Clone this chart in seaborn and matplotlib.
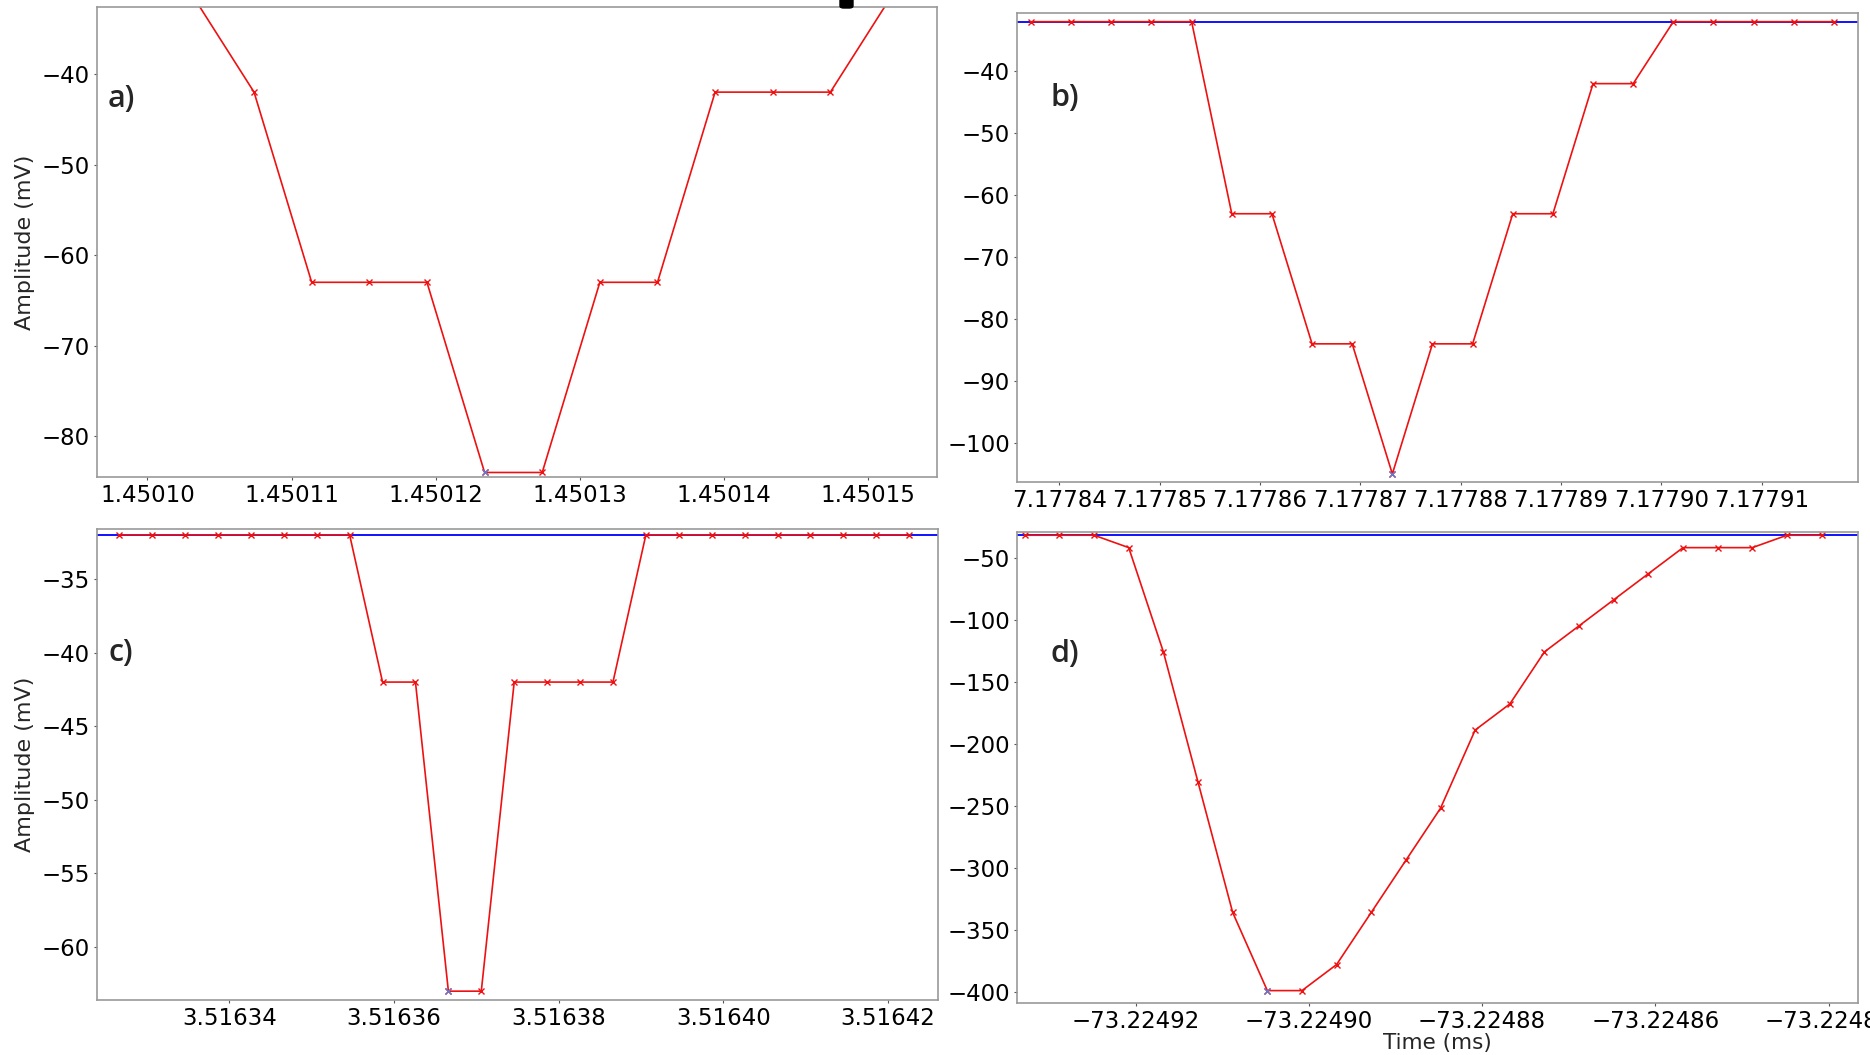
import numpy as np
import matplotlib
matplotlib.use("Agg")
import matplotlib.pyplot as plt
import seaborn as sns
from matplotlib.ticker import MultipleLocator, FuncFormatter
from matplotlib.patches import FancyBboxPatch

# Datos (tiempo en ms, amplitud en mV)
t_a = [1.4500994, 1.4501034, 1.4501074, 1.4501114, 1.4501154, 1.4501194, 1.4501234,
       1.4501274, 1.4501314, 1.4501354, 1.4501394, 1.4501434, 1.4501474, 1.4501514, 1.4501554]
v_a = [-32, -32, -42, -63, -63, -63, -84, -84, -63, -63, -42, -42, -42, -32, -32]

t_b = [7.1778372, 7.1778412, 7.1778452, 7.1778492, 7.1778532, 7.1778572, 7.1778612,
       7.1778652, 7.1778692, 7.1778732, 7.1778772, 7.1778812, 7.1778852, 7.1778892,
       7.1778932, 7.1778972, 7.1779012, 7.1779052, 7.1779092, 7.1779132, 7.1779172]
v_b = [-32, -32, -32, -32, -32, -63, -63, -84, -84, -105, -84, -84, -63, -63,
       -42, -42, -32, -32, -32, -32, -32]

t_c = [3.5163266, 3.5163306, 3.5163346, 3.5163386, 3.5163426, 3.5163466, 3.5163506,
       3.5163546, 3.5163586, 3.5163626, 3.5163666, 3.5163706, 3.5163746, 3.5163786,
       3.5163826, 3.5163866, 3.5163906, 3.5163946, 3.5163986, 3.5164026, 3.5164066,
       3.5164106, 3.5164146, 3.5164186, 3.5164226]
v_c = [-32, -32, -32, -32, -32, -32, -32, -32, -42, -42, -63, -63, -42, -42,
       -42, -42, -32, -32, -32, -32, -32, -32, -32, -32, -32]

t_d = [-73.2249328, -73.2249288, -73.2249248, -73.2249208, -73.2249168, -73.2249128,
       -73.2249088, -73.2249048, -73.2249008, -73.2248968, -73.2248928, -73.2248888,
       -73.2248848, -73.2248808, -73.2248768, -73.2248728, -73.2248688, -73.2248648,
       -73.2248608, -73.2248568, -73.2248528, -73.2248488, -73.2248448, -73.2248408]
v_d = [-32, -32, -32, -42, -126, -231, -336, -399, -399, -378, -336, -294,
       -252, -189, -168, -126, -105, -84, -63, -42, -42, -42, -32, -32]

baseline = -32
labels = ["a)", "b)", "c)", "d)"]

sns.set_theme(style="ticks")
plt.rcParams['font.family'] = ['DejaVu Sans']

W, H = 1870, 1055
fig = plt.figure(figsize=(W / 100, H / 100), dpi=100)


def box(l, r, t, b):
    return [l / W, 1 - b / H, (r - l) / W, (b - t) / H]


paneles = [
    dict(t=t_a, v=v_a, rect=box(97, 937, 7, 477), xlim=(1.4500965, 1.4501548),
         ylim=(-84.5, -32.6), xstep=1e-5, ystep=10, base=False, lab=(0.0125, 0.805)),
    dict(t=t_b, v=v_b, rect=box(1017, 1858, 13, 482), xlim=(7.1778358, 7.1779196),
         ylim=(-106.3, -30.6), xstep=1e-5, ystep=10, base=True, lab=(0.040, 0.819)),
    dict(t=t_c, v=v_c, rect=box(97, 938, 529, 1000), xlim=(3.5163239, 3.5164261),
         ylim=(-63.6, -31.6), xstep=2e-5, ystep=5, base=True, lab=(0.0137, 0.736)),
    dict(t=t_d, v=v_d, rect=box(1017, 1858, 532, 1003), xlim=(-73.2249337, -73.2248366),
         ylim=(-409, -29.4), xstep=2e-5, ystep=50, base=True, lab=(0.040, 0.742)),
]

fmt = FuncFormatter(lambda v, p: f"{v:.5f}".replace("-", "\u2212"))

for i, p in enumerate(paneles):
    ax = fig.add_axes(p["rect"])
    if p["base"]:
        ax.axhline(baseline, color="#1010ff", lw=1.4, zorder=1)
    sns.lineplot(x=p["t"], y=p["v"], ax=ax, color="#ee1111", lw=1.2,
                 marker="x", markersize=5, markeredgewidth=1.0,
                 markeredgecolor="#ee1111", zorder=2)
    # marca del minimo
    k = int(np.argmin(p["v"]))
    ax.plot(p["t"][k], p["v"][k], marker="x", ms=5, mew=1.0, color="#6677cc", zorder=3)

    ax.set_xlim(p["xlim"])
    ax.set_ylim(p["ylim"])
    ax.xaxis.set_major_locator(MultipleLocator(p["xstep"]))
    ax.yaxis.set_major_locator(MultipleLocator(p["ystep"]))
    ax.xaxis.set_major_formatter(fmt)
    ax.tick_params(labelsize=16.5, length=2.5, width=0.8, colors="#555555",
                   labelcolor="black", pad=2.5)
    for s in ax.spines.values():
        s.set_color("#999999")
        s.set_linewidth(1.2)

    ax.text(p["lab"][0], p["lab"][1], labels[i], transform=ax.transAxes,
            ha="left", va="center", fontsize=22, fontweight="semibold",
            family=["Open Sans", "DejaVu Sans"])

    if i in (0, 2):
        ax.set_ylabel("Amplitude (mV)", fontsize=16)
        ax.yaxis.set_label_coords(-0.074, 0.5)
    if i == 3:
        ax.set_xlabel("Time (ms)", fontsize=15.5)
        ax.xaxis.set_label_coords(0.5, -0.063)

# mancha negra que aparece en el borde superior de la figura original
fig.patches.append(FancyBboxPatch((840 / W, 1 - 8 / H), 13 / W, 10 / H,
                                  boxstyle="round,pad=0,rounding_size=0.002",
                                  transform=fig.transFigure, color="black"))

fig.savefig("out.png", dpi=100)
